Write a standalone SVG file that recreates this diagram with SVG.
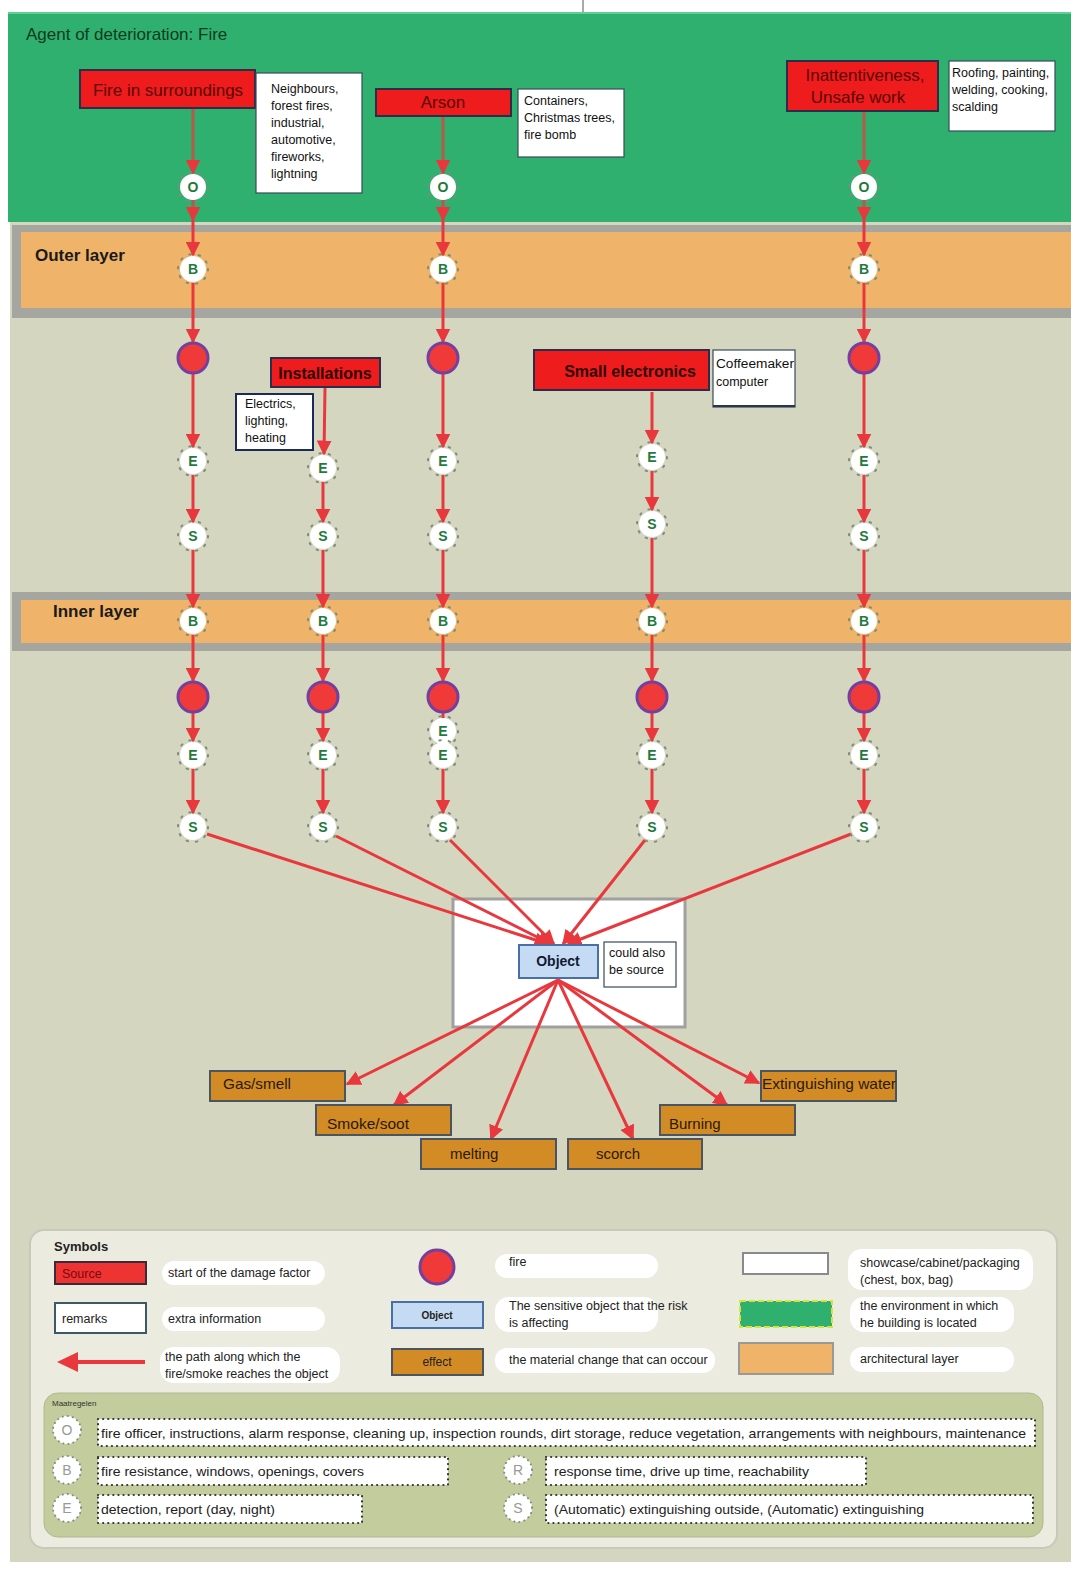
<svg xmlns="http://www.w3.org/2000/svg" xmlns:xlink="http://www.w3.org/1999/xlink" width="1071" height="1570" viewBox="0 0 1071 1570">
<style>
text{font-family:"Liberation Sans",Arial,sans-serif;}
.src{fill:#ee1c1c;stroke:#2b2d4a;stroke-width:2;}
.srct{fill:#5a0505;font-size:17px;}
.srcb{fill:#300404;font-size:16px;font-weight:bold;}
.rem{fill:#ffffff;stroke:#3a4a5a;stroke-width:1.2;}
.remt{fill:#111;font-size:12.5px;}
.bt{fill:#1f7a3c;font-size:14px;font-weight:bold;text-anchor:middle;}
.fire{fill:#f03a3a;stroke:#74409e;stroke-width:3;}
.arr{stroke:#e8383d;stroke-width:3;fill:none;marker-end:url(#ah);}
.arrg{stroke:#b9594c;stroke-width:3;fill:none;marker-end:url(#ah);}
.eff{fill:#d38b25;stroke:#4a5560;stroke-width:2;}
.efft{fill:#2a1a05;font-size:15px;}
.pill{fill:#ffffff;}
.lt{fill:#222;font-size:12.5px;}
.dot{fill:#ffffff;stroke:#333;stroke-width:2.2;stroke-dasharray:0.1 5;stroke-linecap:round;}
.mt{fill:#222;font-size:13px;}
.lb{fill:#999;font-size:14px;text-anchor:middle;}
</style>
<defs>
<marker id="ah" viewBox="0 0 10 10" refX="9" refY="5" markerWidth="15" markerHeight="15" markerUnits="userSpaceOnUse" orient="auto">
<path d="M0,0 L10,5 L0,10 z" fill="#e8383d"/>
</marker>
<symbol id="badge" viewBox="-16 -16 32 32" width="32" height="32" overflow="visible">
<circle r="15" fill="none" stroke="#7d8c7d" stroke-width="2" stroke-dasharray="1.5 8" stroke-linecap="round"/>
<circle r="13" fill="#ffffff"/>
</symbol>
<symbol id="lbadge" viewBox="-16 -16 32 32" width="32" height="32" overflow="visible">
<circle r="14" fill="#ffffff" stroke="#888" stroke-width="2" stroke-dasharray="0.1 5" stroke-linecap="round"/>
</symbol>
</defs>

<!-- backgrounds -->
<rect x="0" y="0" width="1071" height="1570" fill="#ffffff"/>
<line x1="583" y1="0" x2="583" y2="12" stroke="#555" stroke-width="1"/>
<rect x="10" y="222" width="1061" height="1340" fill="#d4d6bf"/>
<rect x="8" y="12" width="1063" height="210" fill="#2fb06e"/>
<rect x="8" y="12" width="1063" height="2" fill="#5fcf95"/>
<text x="26" y="40" fill="#0f3a22" font-size="17">Agent of deterioration: Fire</text>

<g id="outer-layer">
<rect x="12" y="225" width="1059" height="93" fill="#a6a6a0"/>
<rect x="21" y="232" width="1050" height="76" fill="#efb46a"/>
<text x="35" y="261" fill="#1a1a1a" font-size="17" font-weight="bold">Outer layer</text>
</g>
<g id="inner-layer">
<rect x="12" y="592" width="1059" height="59" fill="#a6a6a0"/>
<rect x="21" y="600" width="1050" height="43" fill="#efb46a"/>
<text x="53" y="617" fill="#1a1a1a" font-size="17" font-weight="bold">Inner layer</text>
</g>

<!-- connectors -->
<g id="connectors">
<!-- column 1 -->
<line class="arrg" x1="193" y1="108" x2="193" y2="173"/>
<line class="arrg" x1="193" y1="200" x2="193" y2="220"/>
<line class="arr" x1="193" y1="220" x2="193" y2="255"/>
<line class="arr" x1="193" y1="283" x2="193" y2="342"/>
<line class="arr" x1="193" y1="374" x2="193" y2="447"/>
<line class="arr" x1="193" y1="475" x2="193" y2="522"/>
<line class="arr" x1="193" y1="550" x2="193" y2="607"/>
<line class="arr" x1="193" y1="635" x2="193" y2="681"/>
<line class="arr" x1="193" y1="713" x2="193" y2="741"/>
<line class="arr" x1="193" y1="769" x2="193" y2="813"/>
<!-- column 2 -->
<line class="arr" x1="325" y1="388" x2="324" y2="454"/>
<line class="arr" x1="323" y1="482" x2="323" y2="522"/>
<line class="arr" x1="323" y1="550" x2="323" y2="607"/>
<line class="arr" x1="323" y1="635" x2="323" y2="681"/>
<line class="arr" x1="323" y1="713" x2="323" y2="741"/>
<line class="arr" x1="323" y1="769" x2="323" y2="813"/>
<!-- column 3 -->
<line class="arrg" x1="443" y1="116" x2="443" y2="173"/>
<line class="arrg" x1="443" y1="200" x2="443" y2="220"/>
<line class="arr" x1="443" y1="220" x2="443" y2="255"/>
<line class="arr" x1="443" y1="283" x2="443" y2="342"/>
<line class="arr" x1="443" y1="374" x2="443" y2="447"/>
<line class="arr" x1="443" y1="475" x2="443" y2="522"/>
<line class="arr" x1="443" y1="550" x2="443" y2="607"/>
<line class="arr" x1="443" y1="635" x2="443" y2="681"/>
<line class="arr" x1="443" y1="713" x2="443" y2="741"/>
<line class="arr" x1="443" y1="769" x2="443" y2="813"/>
<!-- column 4 -->
<line class="arr" x1="652" y1="392" x2="652" y2="443"/>
<line class="arr" x1="652" y1="471" x2="652" y2="510"/>
<line class="arr" x1="652" y1="538" x2="652" y2="607"/>
<line class="arr" x1="652" y1="635" x2="652" y2="681"/>
<line class="arr" x1="652" y1="713" x2="652" y2="741"/>
<line class="arr" x1="652" y1="769" x2="652" y2="813"/>
<!-- column 5 -->
<line class="arrg" x1="864" y1="111" x2="864" y2="173"/>
<line class="arrg" x1="864" y1="200" x2="864" y2="220"/>
<line class="arr" x1="864" y1="220" x2="864" y2="255"/>
<line class="arr" x1="864" y1="283" x2="864" y2="342"/>
<line class="arr" x1="864" y1="374" x2="864" y2="447"/>
<line class="arr" x1="864" y1="475" x2="864" y2="522"/>
<line class="arr" x1="864" y1="550" x2="864" y2="607"/>
<line class="arr" x1="864" y1="635" x2="864" y2="681"/>
<line class="arr" x1="864" y1="713" x2="864" y2="741"/>
<line class="arr" x1="864" y1="769" x2="864" y2="813"/>
</g>

<!-- showcase container -->
<g id="showcase">
<rect x="453" y="899" width="232" height="128" fill="#ffffff" stroke="#a0a0a0" stroke-width="3"/>
</g>

<g id="connectors-object">
<line class="arr" x1="207" y1="834" x2="548" y2="944"/>
<line class="arr" x1="336" y1="836" x2="551" y2="944"/>
<line class="arr" x1="450" y1="840" x2="554" y2="944"/>
<line class="arr" x1="645" y1="840" x2="563" y2="944"/>
<line class="arr" x1="851" y1="834" x2="568" y2="944"/>
<line class="arr" x1="558" y1="980" x2="347" y2="1084"/>
<line class="arr" x1="558" y1="980" x2="394" y2="1105"/>
<line class="arr" x1="558" y1="980" x2="491" y2="1139"/>
<line class="arr" x1="558" y1="980" x2="633" y2="1139"/>
<line class="arr" x1="558" y1="980" x2="727" y2="1105"/>
<line class="arr" x1="558" y1="980" x2="759" y2="1083"/>
</g>

<!-- sources and remarks -->
<g id="src-fire-in-surroundings">
<rect class="src" x="80" y="70" width="175" height="38"/>
<text class="srct" x="168" y="96" text-anchor="middle">Fire in surroundings</text>
</g>
<g id="rem-neighbours">
<rect class="rem" x="256" y="73" width="106" height="120"/>
<text class="remt" x="271" y="93">Neighbours,</text>
<text class="remt" x="271" y="110">forest fires,</text>
<text class="remt" x="271" y="127">industrial,</text>
<text class="remt" x="271" y="144">automotive,</text>
<text class="remt" x="271" y="161">fireworks,</text>
<text class="remt" x="271" y="178">lightning</text>
</g>
<g id="src-arson">
<rect class="src" x="376" y="89" width="135" height="27"/>
<text class="srct" x="443" y="108" text-anchor="middle">Arson</text>
</g>
<g id="rem-containers">
<rect class="rem" x="518" y="89" width="106" height="68"/>
<text class="remt" x="524" y="105">Containers,</text>
<text class="remt" x="524" y="122">Christmas trees,</text>
<text class="remt" x="524" y="139">fire bomb</text>
</g>
<g id="src-inattentiveness">
<rect class="src" x="787" y="61" width="151" height="50"/>
<text class="srct" x="865" y="81" text-anchor="middle">Inattentiveness,</text>
<text class="srct" x="858" y="103" text-anchor="middle">Unsafe work</text>
</g>
<g id="rem-roofing">
<rect class="rem" x="949" y="61" width="106" height="70"/>
<text class="remt" x="952" y="77">Roofing, painting,</text>
<text class="remt" x="952" y="94">welding, cooking,</text>
<text class="remt" x="952" y="111">scalding</text>
</g>
<g id="src-installations">
<rect class="src" x="271" y="358" width="109" height="29"/>
<text class="srcb" x="325" y="379" text-anchor="middle">Installations</text>
</g>
<g id="rem-electrics">
<rect x="236" y="394" width="77" height="56" fill="#ffffff" stroke="#1b2a5a" stroke-width="2"/>
<text class="remt" x="245" y="408" font-size="12">Electrics,</text>
<text class="remt" x="245" y="425" font-size="12">lighting,</text>
<text class="remt" x="245" y="442" font-size="12">heating</text>
</g>
<g id="src-small-electronics">
<rect class="src" x="534" y="350" width="175" height="40"/>
<text class="srcb" x="630" y="377" text-anchor="middle">Small electronics</text>
</g>
<g id="rem-coffeemaker">
<rect class="rem" x="713" y="350" width="82" height="57"/>
<line x1="713" y1="406" x2="795" y2="406" stroke="#2b3550" stroke-width="2"/>
<text class="remt" x="716" y="368" font-size="12" textLength="78" lengthAdjust="spacingAndGlyphs">Coffeemaker</text>
<text class="remt" x="716" y="386" font-size="12">computer</text>
</g>

<!-- column 1 nodes -->
<g id="c1-O"><use href="#badge" x="177" y="171"/><text class="bt" x="193" y="192">O</text></g>
<g id="c1-B1"><use href="#badge" x="177" y="253"/><text class="bt" x="193" y="274">B</text></g>
<g id="c1-F1"><circle class="fire" cx="193" cy="358" r="15"/></g>
<g id="c1-E1"><use href="#badge" x="177" y="445"/><text class="bt" x="193" y="466">E</text></g>
<g id="c1-S1"><use href="#badge" x="177" y="520"/><text class="bt" x="193" y="541">S</text></g>
<g id="c1-B2"><use href="#badge" x="177" y="605"/><text class="bt" x="193" y="626">B</text></g>
<g id="c1-F2"><circle class="fire" cx="193" cy="697" r="15"/></g>
<g id="c1-E2"><use href="#badge" x="177" y="739"/><text class="bt" x="193" y="760">E</text></g>
<g id="c1-S2"><use href="#badge" x="177" y="811"/><text class="bt" x="193" y="832">S</text></g>

<!-- column 2 nodes -->
<g id="c2-E1"><use href="#badge" x="307" y="452"/><text class="bt" x="323" y="473">E</text></g>
<g id="c2-S1"><use href="#badge" x="307" y="520"/><text class="bt" x="323" y="541">S</text></g>
<g id="c2-B2"><use href="#badge" x="307" y="605"/><text class="bt" x="323" y="626">B</text></g>
<g id="c2-F2"><circle class="fire" cx="323" cy="697" r="15"/></g>
<g id="c2-E2"><use href="#badge" x="307" y="739"/><text class="bt" x="323" y="760">E</text></g>
<g id="c2-S2"><use href="#badge" x="307" y="811"/><text class="bt" x="323" y="832">S</text></g>

<!-- column 3 nodes -->
<g id="c3-O"><use href="#badge" x="427" y="171"/><text class="bt" x="443" y="192">O</text></g>
<g id="c3-B1"><use href="#badge" x="427" y="253"/><text class="bt" x="443" y="274">B</text></g>
<g id="c3-F1"><circle class="fire" cx="443" cy="358" r="15"/></g>
<g id="c3-E1"><use href="#badge" x="427" y="445"/><text class="bt" x="443" y="466">E</text></g>
<g id="c3-S1"><use href="#badge" x="427" y="520"/><text class="bt" x="443" y="541">S</text></g>
<g id="c3-B2"><use href="#badge" x="427" y="605"/><text class="bt" x="443" y="626">B</text></g>
<g id="c3-F2"><circle class="fire" cx="443" cy="697" r="15"/></g>
<g id="c3-E2b"><use href="#badge" x="427" y="715"/><text class="bt" x="443" y="736">E</text></g>
<g id="c3-E2"><use href="#badge" x="427" y="739"/><text class="bt" x="443" y="760">E</text></g>
<g id="c3-S2"><use href="#badge" x="427" y="811"/><text class="bt" x="443" y="832">S</text></g>

<!-- column 4 nodes -->
<g id="c4-E1"><use href="#badge" x="636" y="441"/><text class="bt" x="652" y="462">E</text></g>
<g id="c4-S1"><use href="#badge" x="636" y="508"/><text class="bt" x="652" y="529">S</text></g>
<g id="c4-B2"><use href="#badge" x="636" y="605"/><text class="bt" x="652" y="626">B</text></g>
<g id="c4-F2"><circle class="fire" cx="652" cy="697" r="15"/></g>
<g id="c4-E2"><use href="#badge" x="636" y="739"/><text class="bt" x="652" y="760">E</text></g>
<g id="c4-S2"><use href="#badge" x="636" y="811"/><text class="bt" x="652" y="832">S</text></g>

<!-- column 5 nodes -->
<g id="c5-O"><use href="#badge" x="848" y="171"/><text class="bt" x="864" y="192">O</text></g>
<g id="c5-B1"><use href="#badge" x="848" y="253"/><text class="bt" x="864" y="274">B</text></g>
<g id="c5-F1"><circle class="fire" cx="864" cy="358" r="15"/></g>
<g id="c5-E1"><use href="#badge" x="848" y="445"/><text class="bt" x="864" y="466">E</text></g>
<g id="c5-S1"><use href="#badge" x="848" y="520"/><text class="bt" x="864" y="541">S</text></g>
<g id="c5-B2"><use href="#badge" x="848" y="605"/><text class="bt" x="864" y="626">B</text></g>
<g id="c5-F2"><circle class="fire" cx="864" cy="697" r="15"/></g>
<g id="c5-E2"><use href="#badge" x="848" y="739"/><text class="bt" x="864" y="760">E</text></g>
<g id="c5-S2"><use href="#badge" x="848" y="811"/><text class="bt" x="864" y="832">S</text></g>

<!-- object -->
<g id="object">
<rect x="519" y="945" width="79" height="33" fill="#c5dbf3" stroke="#4a6fa5" stroke-width="2"/>
<text x="558" y="966" fill="#111a33" font-size="14" font-weight="bold" text-anchor="middle">Object</text>
</g>
<g id="rem-could">
<rect class="rem" x="604" y="942" width="72" height="45"/>
<text class="remt" x="609" y="957" font-size="12">could also</text>
<text class="remt" x="609" y="974" font-size="12">be source</text>
</g>

<!-- effects -->
<g id="eff-gas"><rect class="eff" x="210" y="1071" width="135" height="30"/><text class="efft" x="223" y="1089" textLength="68" lengthAdjust="spacingAndGlyphs">Gas/smell</text></g>
<g id="eff-smoke"><rect class="eff" x="316" y="1105" width="135" height="30"/><text class="efft" x="327" y="1129" textLength="82" lengthAdjust="spacingAndGlyphs">Smoke/soot</text></g>
<g id="eff-melting"><rect class="eff" x="421" y="1139" width="135" height="30"/><text class="efft" x="450" y="1159">melting</text></g>
<g id="eff-scorch"><rect class="eff" x="568" y="1139" width="134" height="30"/><text class="efft" x="596" y="1159">scorch</text></g>
<g id="eff-burning"><rect class="eff" x="660" y="1105" width="135" height="30"/><text class="efft" x="669" y="1129">Burning</text></g>
<g id="eff-water"><rect class="eff" x="761" y="1071" width="135" height="30"/><text class="efft" x="762" y="1089" textLength="134" lengthAdjust="spacingAndGlyphs">Extinguishing water</text></g>

<!-- legend -->
<g id="legend">
<rect x="30" y="1230" width="1027" height="318" rx="14" fill="#ebebdf" stroke="#c9c9b9" stroke-width="2"/>
<text x="54" y="1251" fill="#222" font-size="13" font-weight="bold">Symbols</text>
<rect x="55" y="1262" width="91" height="22" fill="#ee3333" stroke="#3a2a3a" stroke-width="2"/>
<text x="62" y="1278" fill="#7a0a0a" font-size="12.5">Source</text>
<rect class="pill" x="162" y="1261" width="163" height="24" rx="12"/>
<text class="lt" x="168" y="1277">start of the damage factor</text>
<rect x="55" y="1303" width="91" height="30" fill="#ffffff" stroke="#3a5a6a" stroke-width="2"/>
<text class="lt" x="62" y="1323">remarks</text>
<rect class="pill" x="162" y="1307" width="163" height="24" rx="12"/>
<text class="lt" x="168" y="1323">extra information</text>
<line x1="145" y1="1362" x2="72" y2="1362" stroke="#e8383d" stroke-width="4"/>
<path d="M57,1362 L78,1352 L78,1372 z" fill="#e8383d"/>
<rect class="pill" x="160" y="1347" width="180" height="36" rx="14"/>
<text class="lt" x="165" y="1361">the path along which the</text>
<text class="lt" x="165" y="1378">fire/smoke reaches the object</text>
<circle class="fire" cx="437" cy="1267" r="17"/>
<rect class="pill" x="495" y="1254" width="163" height="24" rx="12"/>
<text class="lt" x="509" y="1266">fire</text>
<rect x="392" y="1302" width="91" height="26" fill="#c5dbf3" stroke="#4a6fa5" stroke-width="2"/>
<text x="437" y="1319" fill="#222" font-size="10" font-weight="bold" text-anchor="middle">Object</text>
<rect class="pill" x="495" y="1297" width="163" height="35" rx="14"/>
<text class="lt" x="509" y="1310">The sensitive object that the risk</text>
<text class="lt" x="509" y="1327">is affecting</text>
<rect x="392" y="1349" width="91" height="26" fill="#d38b25" stroke="#4a5560" stroke-width="2"/>
<text x="437" y="1366" fill="#222" font-size="12" text-anchor="middle">effect</text>
<rect class="pill" x="495" y="1348" width="220" height="25" rx="12"/>
<text class="lt" x="509" y="1364">the material change that can occour</text>
<rect x="743" y="1253" width="85" height="21" fill="#ffffff" stroke="#8a8a8a" stroke-width="2"/>
<rect class="pill" x="848" y="1249" width="185" height="41" rx="14"/>
<text class="lt" x="860" y="1267">showcase/cabinet/packaging</text>
<text class="lt" x="860" y="1284">(chest, box, bag)</text>
<rect x="740" y="1301" width="92" height="26" fill="#2fb06e" stroke="#d9e23a" stroke-width="2" stroke-dasharray="6 3"/>
<rect class="pill" x="850" y="1297" width="164" height="35" rx="14"/>
<text class="lt" x="860" y="1310">the environment in which</text>
<text class="lt" x="860" y="1327">he building is located</text>
<rect x="739" y="1343" width="94" height="31" fill="#efb46a" stroke="#999" stroke-width="2"/>
<rect class="pill" x="850" y="1347" width="164" height="25" rx="12"/>
<text class="lt" x="860" y="1363">architectural layer</text>
</g>

<!-- measures -->
<g id="measures">
<rect x="44" y="1393" width="999" height="144" rx="14" fill="#c2cc9c" stroke="#b0b890" stroke-width="1"/>
<text x="52" y="1406" fill="#333" font-size="8">Maatregelen</text>
<use href="#lbadge" x="51" y="1414"/><text class="lb" x="67" y="1435">O</text>
<rect class="dot" x="98" y="1419" width="937" height="27"/>
<text class="mt" x="101" y="1438" textLength="925" lengthAdjust="spacingAndGlyphs">fire officer, instructions, alarm response, cleaning up, inspection rounds, dirt storage, reduce vegetation, arrangements with neighbours, maintenance</text>
<use href="#lbadge" x="51" y="1454"/><text class="lb" x="67" y="1475">B</text>
<rect class="dot" x="98" y="1457" width="350" height="28"/>
<text class="mt" x="101" y="1476" textLength="263" lengthAdjust="spacingAndGlyphs">fire resistance, windows, openings, covers</text>
<use href="#lbadge" x="502" y="1454"/><text class="lb" x="518" y="1475">R</text>
<rect class="dot" x="546" y="1457" width="320" height="28"/>
<text class="mt" x="554" y="1476" textLength="255" lengthAdjust="spacingAndGlyphs">response time, drive up time, reachability</text>
<use href="#lbadge" x="51" y="1492"/><text class="lb" x="67" y="1513">E</text>
<rect class="dot" x="98" y="1495" width="264" height="28"/>
<text class="mt" x="101" y="1514" textLength="174" lengthAdjust="spacingAndGlyphs">detection, report (day, night)</text>
<use href="#lbadge" x="502" y="1492"/><text class="lb" x="518" y="1513">S</text>
<rect class="dot" x="546" y="1495" width="487" height="28"/>
<text class="mt" x="554" y="1514" textLength="370" lengthAdjust="spacingAndGlyphs">(Automatic) extinguishing outside, (Automatic) extinguishing</text>
</g>
</svg>
